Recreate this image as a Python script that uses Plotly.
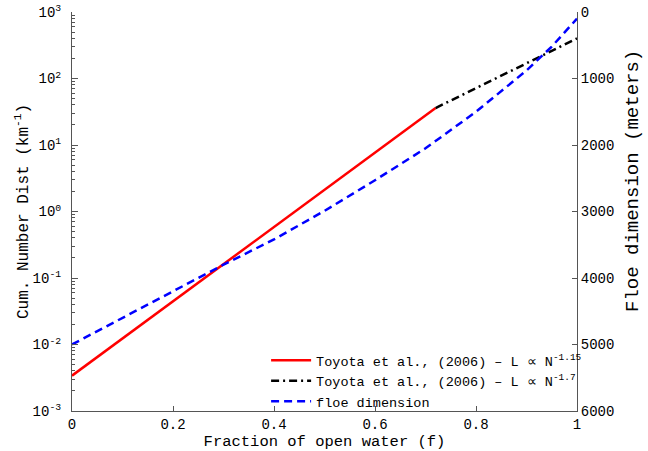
import plotly.graph_objects as go

# Cumulative number distribution (km^-1), Toyota et al. (2006) fits
f_red = [0.0, 0.36, 0.72]
n_red = [0.0034, 0.35, 36.0]

f_black = [0.72, 0.86, 1.0]
n_black = [36.0, 120.0, 400.0]

# Floe dimension (meters), right axis
f_blue = [0.0, 0.1, 0.2, 0.3, 0.4, 0.5, 0.6, 0.7, 0.8, 0.9, 0.95, 1.0]
d_blue = [5000, 4600, 4200, 3800, 3420, 2990, 2530, 2050, 1500, 880, 520, 100]

left_tickvals = [1e-3, 1e-2, 1e-1, 1e0, 1e1, 1e2, 1e3]
left_ticktext = ["10<sup>-3</sup>", "10<sup>-2</sup>", "10<sup>-1</sup>", "10<sup>0</sup>",
                 "10<sup>1</sup>", "10<sup>2</sup>", "10<sup>3</sup>"]
minor_vals = [m * 10 ** e for e in range(-3, 3) for m in range(2, 10)]

x_tickvals = [0, 0.2, 0.4, 0.6, 0.8, 1.0]
x_ticktext = ["0", "0.2", "0.4", "0.6", "0.8", "1"]
right_tickvals = [0, 1000, 2000, 3000, 4000, 5000, 6000]

FONT = "Liberation Mono"
AX = "#555555"

fig = go.Figure()
fig.add_trace(go.Scatter(x=f_red, y=n_red, mode="lines",
                         line=dict(color="#ff0000", width=2.5),
                         name="Toyota et al., (2006) – L ∝ N<sup>-1.15</sup>"))
fig.add_trace(go.Scatter(x=f_black, y=n_black, mode="lines",
                         line=dict(color="#000000", width=2.5, dash="8px,4px,2px,4px"),
                         name="Toyota et al., (2006) – L ∝ N<sup>-1.7</sup>"))
fig.add_trace(go.Scatter(x=f_blue, y=d_blue, mode="lines", yaxis="y2",
                         line=dict(color="#0000ff", width=2.5, dash="8px,5px"),
                         name="floe dimension"))

fig.update_layout(
    width=648, height=451,
    margin=dict(l=72, r=71, t=12, b=40),
    paper_bgcolor="white", plot_bgcolor="white",
    font=dict(family=FONT, size=14, color="black"),
    showlegend=True,
    legend=dict(x=1.02, xanchor="right", y=-0.015, yanchor="bottom",
                bgcolor="rgba(0,0,0,0)", font=dict(family=FONT, size=13.5, color="black"),
                tracegroupgap=0, itemwidth=40),
    xaxis=dict(range=[0, 1], tickvals=x_tickvals, ticktext=x_ticktext, automargin=False,
               ticks="inside", ticklen=5, tickcolor=AX, showline=True, linecolor=AX,
               linewidth=1, showgrid=False, zeroline=False,
               title=dict(text="Fraction of open water (f)", font=dict(size=15.5), standoff=1)),
    yaxis=dict(type="log", range=[-3, 3], tickvals=left_tickvals, ticktext=left_ticktext,
               automargin=False, ticklabelstandoff=7,
               ticks="inside", ticklen=6, tickcolor=AX, showline=True, linecolor=AX,
               linewidth=1, showgrid=False, zeroline=False,
               minor=dict(tickvals=minor_vals, ticks="inside", ticklen=3, tickcolor=AX, showgrid=False),
               title=dict(text="Cum. Number Dist (km<sup>-1</sup>)", font=dict(size=16), standoff=0)),
    yaxis2=dict(range=[6000, 0], overlaying="y", side="right", tickvals=right_tickvals,
                automargin=False,
                ticks="inside", ticklen=5, tickcolor=AX, showline=True, linecolor=AX,
                linewidth=1, showgrid=False, zeroline=False),
    annotations=[dict(text="Floe dimension (meters)", textangle=-90, showarrow=False,
                      xref="paper", yref="paper", x=1.0, xshift=56, xanchor="center",
                      y=(411 - 181) / 399, yanchor="middle",
                      font=dict(family=FONT, size=19, color="black"))],
)

fig.write_html("out.html")
